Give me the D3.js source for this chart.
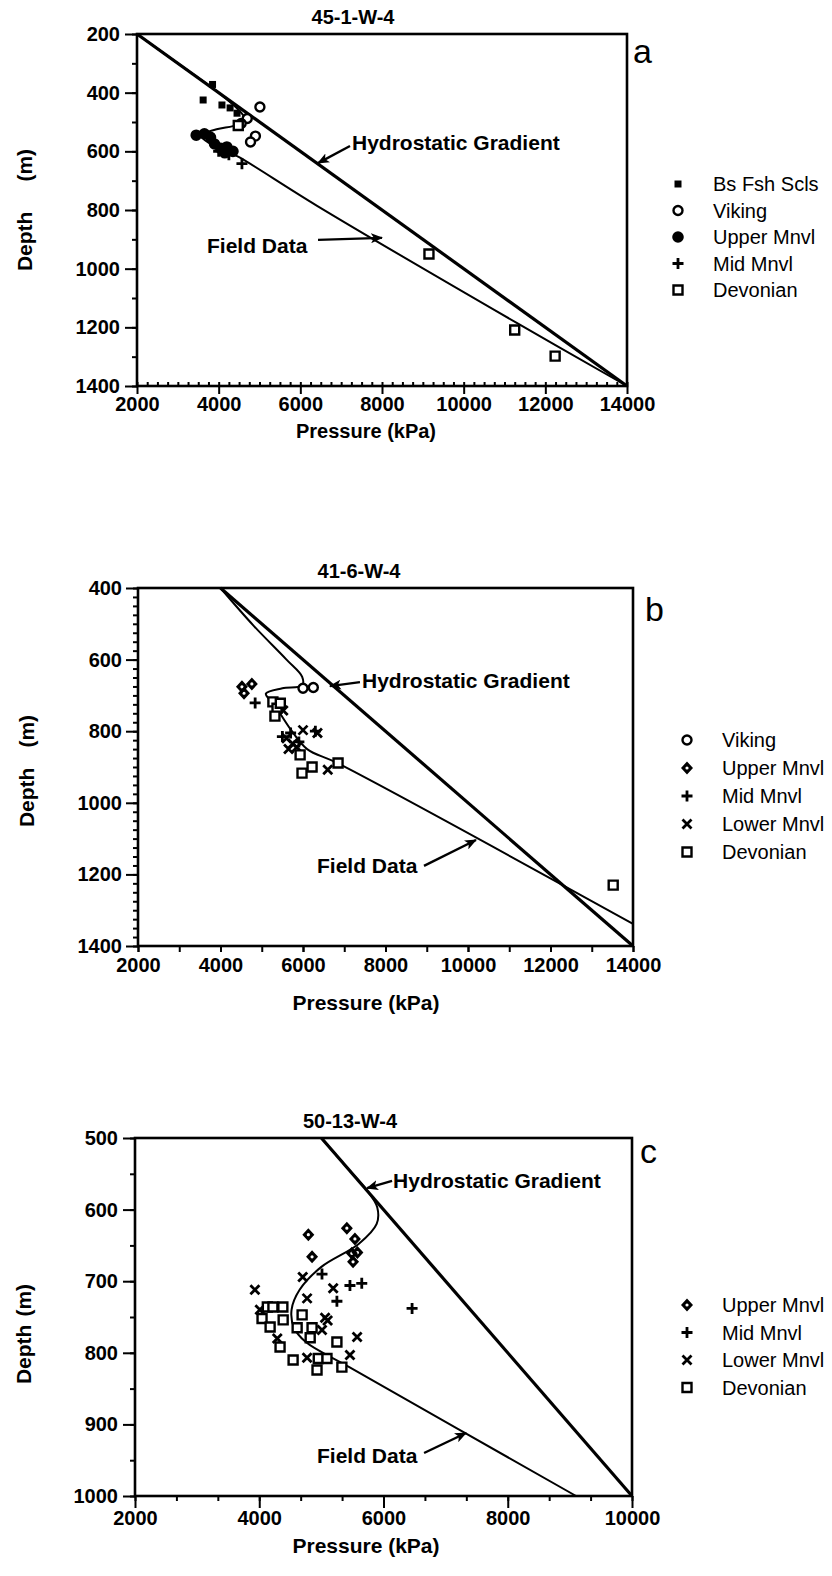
<!DOCTYPE html>
<html lang="en">
<head>
<meta charset="UTF-8">
<title>Pressure - Depth profiles</title>
<script src="https://d3js.org/d3.v7.min.js"></script>
<style>
  body { margin: 0; background: #fff; }
  svg text { font-family: "Liberation Sans", Arial, Helvetica, sans-serif; fill: #000; }
  .tick text { font-weight: bold; font-size: 20px; }
  .tick line { stroke: #000; stroke-width: 2; }
</style>
</head>
<body>
<script>
// ---------- data (pressure kPa, depth m) ----------
// panel a : 45-1-W-4
var aXTicks = [2000, 4000, 6000, 8000, 10000, 12000, 14000];
var aYTicks = [200, 400, 600, 800, 1000, 1200, 1400];
var aHydro = [[2000, 200], [14000, 1400]];
var aField = [[2000, 200], [3000, 300], [4000, 400], [4550, 468], [4680, 500], [4350, 514], [3950, 525],
              [3550, 545], [3800, 575], [4200, 600], [4500, 620], [6400, 785], [11300, 1185], [14000, 1400]];
var aBsFshScls = [[3620, 425], [3850, 372], [4080, 442], [4280, 452], [4450, 470]];
var aViking = [[5010, 449], [4700, 488], [4900, 548], [4780, 568], [4550, 505]];
var aUpperMnvl = [[3450, 545], [3650, 540], [3800, 552], [3900, 575], [4050, 590], [4200, 585], [4150, 605], [4350, 600]];
var aMidMnvl = [[4570, 642], [4250, 612], [4000, 600]];
var aDevonian = [[4480, 512], [9150, 950], [11250, 1209], [12240, 1298]];

// panel b : 41-6-W-4
var bXTicks = [2000, 4000, 6000, 8000, 10000, 12000, 14000];
var bYTicks = [400, 600, 800, 1000, 1200, 1400];
var bHydro = [[4000, 400], [14000, 1400]];
var bField = [[4000, 400], [4800, 505], [5600, 600], [5980, 648], [5980, 672], [5500, 680], [5100, 695],
              [5300, 725], [5700, 795], [6100, 850], [6850, 890], [14000, 1338]];
var bViking = [[6000, 680], [6250, 678]];
var bUpperMnvl = [[4520, 676], [4570, 694], [4760, 668]];
var bMidMnvl = [[4840, 721], [6300, 800], [5700, 805], [5900, 830], [5500, 815]];
var bLowerMnvl = [[6000, 797], [6350, 805], [5600, 820], [5750, 835], [5850, 845], [5650, 850], [6600, 908], [5520, 742]];
var bDevonian = [[5270, 718], [5370, 736], [5450, 722], [5320, 758], [5930, 866], [6220, 900], [5976, 917], [6850, 889], [13520, 1230]];

// panel c : 50-13-W-4
var cXTicks = [2000, 4000, 6000, 8000, 10000];
var cYTicks = [500, 600, 700, 800, 900, 1000];
var cHydro = [[5000, 500], [10000, 1000]];
var cField = [[5000, 500], [5400, 540], [5750, 575], [5900, 597], [5890, 620], [5600, 648], [5000, 680],
              [4650, 712], [4520, 740], [4560, 765], [4750, 785], [5450, 820], [9100, 1000]];
var cUpperMnvl = [[4790, 635], [4850, 666], [5410, 626], [5540, 641], [5490, 661], [5580, 660], [5510, 673]];
var cMidMnvl = [[5650, 703], [5460, 706], [5010, 690], [6460, 738], [5250, 728]];
var cLowerMnvl = [[3930, 712], [4700, 694], [5190, 710], [4770, 724], [5060, 751], [5010, 768], [5575, 778],
                  [5460, 803], [4770, 807], [4290, 780], [4010, 740], [5100, 755]];
var cDevonian = [[4130, 736], [4220, 736], [4380, 736], [4045, 752], [4175, 764], [4335, 792], [4385, 754], [4690, 747],
                 [4610, 765], [4850, 765], [4820, 779], [5250, 785], [4545, 810], [4950, 808], [5090, 808], [4930, 824], [5330, 820]];

// ---------- marker shapes ----------
var shapes = {
    bs:    { fill: "#000", stroke: "none", w: 0, path: function (p) { p.rect(-3.5, -3.5, 7, 7); } },
    ring:  { fill: "#fff", stroke: "#000", w: 2.4, path: function (p) { p.moveTo(4.5, 0); p.arc(0, 0, 4.5, 0, 2 * Math.PI); } },
    dot:   { fill: "#000", stroke: "none", w: 0, path: function (p) { p.moveTo(5.8, 0); p.arc(0, 0, 5.8, 0, 2 * Math.PI); } },
    plus:  { fill: "none", stroke: "#000", w: 2.8, path: function (p) { p.moveTo(-5.5, 0); p.lineTo(5.5, 0); p.moveTo(0, -5.5); p.lineTo(0, 5.5); } },
    cross: { fill: "none", stroke: "#000", w: 2.8, path: function (p) { p.moveTo(-4.5, -4.5); p.lineTo(4.5, 4.5); p.moveTo(-4.5, 4.5); p.lineTo(4.5, -4.5); } },
    box:   { fill: "#fff", stroke: "#000", w: 2.4, path: function (p) { p.rect(-4.5, -4.5, 9, 9); } },
    diam:  { fill: "#000", stroke: "none", w: 0, rule: "evenodd",
             path: function (p) { p.moveTo(0, -6.5); p.lineTo(6, 0); p.lineTo(0, 6.5); p.lineTo(-6, 0); p.closePath();
                                  p.moveTo(1.6, 0); p.arc(0, 0, 1.6, 0, 2 * Math.PI); } }
};
function shapePath(key) {
    var p = d3.path();
    shapes[key].path(p);
    return p.toString();
}

var svg = d3.select("body").append("svg").attr("width", 832).attr("height", 1576);
svg.append("defs").append("marker")
    .attr("id", "head").attr("viewBox", "0 0 12 10").attr("refX", 11).attr("refY", 5)
    .attr("markerWidth", 12).attr("markerHeight", 10).attr("markerUnits", "userSpaceOnUse")
    .attr("orient", "auto")
    .append("path").attr("d", "M0,0 L12,5 L0,10 L3,5 Z").attr("fill", "#000");

function drawPanel(cfg) {
    var x = d3.scaleLinear().domain(cfg.xDomain).range([cfg.left, cfg.right]);
    var y = d3.scaleLinear().domain(cfg.yDomain).range([cfg.top, cfg.bottom]);
    var g = svg.append("g");

    // minor ticks
    g.append("g").attr("transform", "translate(" + cfg.left + ",0)")
        .call(d3.axisLeft(y).tickValues(d3.range(cfg.yDomain[0], cfg.yDomain[1] + 0.1, cfg.yMinor)).tickSize(5).tickFormat(""))
        .call(function (s) { s.select(".domain").remove(); });
    g.append("g").attr("transform", "translate(0," + cfg.bottom + ")")
        .call(d3.axisBottom(x).tickValues(d3.range(cfg.xDomain[0], cfg.xDomain[1] + 0.1, cfg.xMinor)).tickSize(cfg.xMinorSize).tickFormat(""))
        .call(function (s) { s.select(".domain").remove(); });

    // major ticks + labels
    g.append("g").attr("transform", "translate(" + cfg.left + ",0)")
        .call(d3.axisLeft(y).tickValues(cfg.yTicks).tickSize(12).tickPadding(cfg.yPad).tickFormat(d3.format("d")))
        .call(function (s) { s.select(".domain").remove(); });
    g.append("g").attr("transform", "translate(0," + cfg.bottom + ")")
        .call(d3.axisBottom(x).tickValues(cfg.xTicks).tickSize(cfg.xMajorSize).tickPadding(cfg.xPad).tickFormat(d3.format("d")))
        .call(function (s) { s.select(".domain").remove(); });

    // frame
    g.append("rect").attr("x", cfg.left).attr("y", cfg.top)
        .attr("width", cfg.right - cfg.left).attr("height", cfg.bottom - cfg.top)
        .attr("fill", "none").attr("stroke", "#000").attr("stroke-width", 2.6);

    var line = d3.line().x(function (d) { return x(d[0]); }).y(function (d) { return y(d[1]); });
    g.append("path").attr("d", line(cfg.hydro)).attr("fill", "none").attr("stroke", "#000").attr("stroke-width", 3.2);
    g.append("path").attr("d", line.curve(d3.curveCatmullRom.alpha(0.5))(cfg.field))
        .attr("fill", "none").attr("stroke", "#000").attr("stroke-width", 2);

    // points
    cfg.series.forEach(function (s) {
        var sh = shapes[s.shape];
        g.append("g").selectAll("path").data(s.data).enter().append("path")
            .attr("transform", function (d) { return "translate(" + x(d[0]) + "," + y(d[1]) + ")"; })
            .attr("d", shapePath(s.shape))
            .attr("fill", sh.fill).attr("fill-rule", sh.rule || "nonzero")
            .attr("stroke", sh.stroke).attr("stroke-width", sh.w);
    });

    // annotations with arrows
    cfg.notes.forEach(function (n) {
        g.append("text").attr("x", x(n.at[0])).attr("y", y(n.at[1]))
            .attr("font-size", 21).attr("font-weight", "bold").text(n.text);
        g.append("line")
            .attr("x1", x(n.from[0])).attr("y1", y(n.from[1]))
            .attr("x2", x(n.to[0])).attr("y2", y(n.to[1]))
            .attr("stroke", "#000").attr("stroke-width", 2.4).attr("marker-end", "url(#head)");
    });

    // titles
    g.append("text").attr("x", cfg.titleX).attr("y", cfg.top - 10).attr("text-anchor", "middle")
        .attr("font-size", 20).attr("font-weight", "bold").text(cfg.title);
    g.append("text").attr("x", cfg.right + cfg.letterDx).attr("y", cfg.top + cfg.letterDy)
        .attr("font-size", 34).text(cfg.letter);
    g.append("text").attr("x", 366).attr("y", cfg.bottom + cfg.xTitleDy).attr("text-anchor", "middle")
        .attr("font-size", cfg.xTitleSize).attr("font-weight", "bold").text("Pressure (kPa)");
    var yt = g.append("text")
        .attr("transform", "translate(" + cfg.yTitleX + "," + ((cfg.top + cfg.bottom) / 2 + cfg.yTitleDy) + ") rotate(-90)")
        .attr("text-anchor", "middle").attr("font-size", 21).attr("font-weight", "bold");
    yt.append("tspan").text("Depth");
    yt.append("tspan").attr("dx", cfg.yGap).text("(m)");

    // legend
    cfg.series.forEach(function (s, i) {
        var sh = shapes[s.shape];
        var ly = cfg.legY + i * cfg.legStep;
        g.append("path").attr("transform", "translate(" + cfg.legX + "," + ly + ")")
            .attr("d", shapePath(s.shape))
            .attr("fill", sh.fill).attr("fill-rule", sh.rule || "nonzero")
            .attr("stroke", sh.stroke).attr("stroke-width", sh.w);
        g.append("text").attr("x", cfg.legX + 35).attr("y", ly + 7).attr("font-size", 20).text(s.name);
    });
}

drawPanel({
    title: "45-1-W-4", titleX: 353, letter: "a", letterDx: 6, letterDy: 29,
    left: 137, right: 627, top: 34, bottom: 386,
    xDomain: [2000, 14000], yDomain: [200, 1400],
    xTicks: aXTicks, yTicks: aYTicks, xMinor: 250, yMinor: 100,
    xMinorSize: -4, xMajorSize: 8, xPad: 3, yPad: 5,
    xTitleDy: 52, xTitleSize: 20, yTitleX: 32, yTitleDy: 0, yGap: 30,
    hydro: aHydro, field: aField,
    series: [
        { name: "Bs Fsh Scls", shape: "bs", data: aBsFshScls },
        { name: "Viking", shape: "ring", data: aViking },
        { name: "Upper Mnvl", shape: "dot", data: aUpperMnvl },
        { name: "Mid Mnvl", shape: "plus", data: aMidMnvl },
        { name: "Devonian", shape: "box", data: aDevonian }
    ],
    notes: [
        { text: "Hydrostatic Gradient", at: [7265, 595], from: [7216, 582], to: [6433, 640] },
        { text: "Field Data", at: [3714, 947], from: [6433, 902], to: [8000, 895] }
    ],
    legX: 678, legY: 184, legStep: 26.5
});

drawPanel({
    title: "41-6-W-4", titleX: 359, letter: "b", letterDx: 12, letterDy: 33,
    left: 138, right: 633, top: 588, bottom: 946,
    xDomain: [2000, 14000], yDomain: [400, 1400],
    xTicks: bXTicks, yTicks: bYTicks, xMinor: 1000, yMinor: 25,
    xMinorSize: 6, xMajorSize: 6, xPad: 6, yPad: 4,
    xTitleDy: 64, xTitleSize: 21, yTitleX: 34, yTitleDy: 4, yGap: 20,
    hydro: bHydro, field: bField,
    series: [
        { name: "Viking", shape: "ring", data: bViking },
        { name: "Upper Mnvl", shape: "diam", data: bUpperMnvl },
        { name: "Mid Mnvl", shape: "plus", data: bMidMnvl },
        { name: "Lower Mnvl", shape: "cross", data: bLowerMnvl },
        { name: "Devonian", shape: "box", data: bDevonian }
    ],
    notes: [
        { text: "Hydrostatic Gradient", at: [7430, 679], from: [7381, 663], to: [6654, 674] },
        { text: "Field Data", at: [6339, 1196], from: [8933, 1176], to: [10193, 1104] }
    ],
    legX: 687, legY: 740, legStep: 28
});

drawPanel({
    title: "50-13-W-4", titleX: 350, letter: "c", letterDx: 8, letterDy: 25,
    left: 135, right: 632, top: 1138, bottom: 1496,
    xDomain: [2000, 10000], yDomain: [500, 1000],
    xTicks: cXTicks, yTicks: cYTicks, xMinor: 2000 / 3, yMinor: 50,
    xMinorSize: 5, xMajorSize: 12, xPad: 3, yPad: 5,
    xTitleDy: 57, xTitleSize: 21, yTitleX: 31, yTitleDy: 17, yGap: 8,
    hydro: cHydro, field: cField,
    series: [
        { name: "Upper Mnvl", shape: "diam", data: cUpperMnvl },
        { name: "Mid Mnvl", shape: "plus", data: cMidMnvl },
        { name: "Lower Mnvl", shape: "cross", data: cLowerMnvl },
        { name: "Devonian", shape: "box", data: cDevonian }
    ],
    notes: [
        { text: "Hydrostatic Gradient", at: [6154, 570], from: [6138, 560], to: [5735, 570] },
        { text: "Field Data", at: [4930, 954], from: [6653, 940], to: [7329, 912] }
    ],
    legX: 687, legY: 1305, legStep: 27.5
});
</script>
</body>
</html>
